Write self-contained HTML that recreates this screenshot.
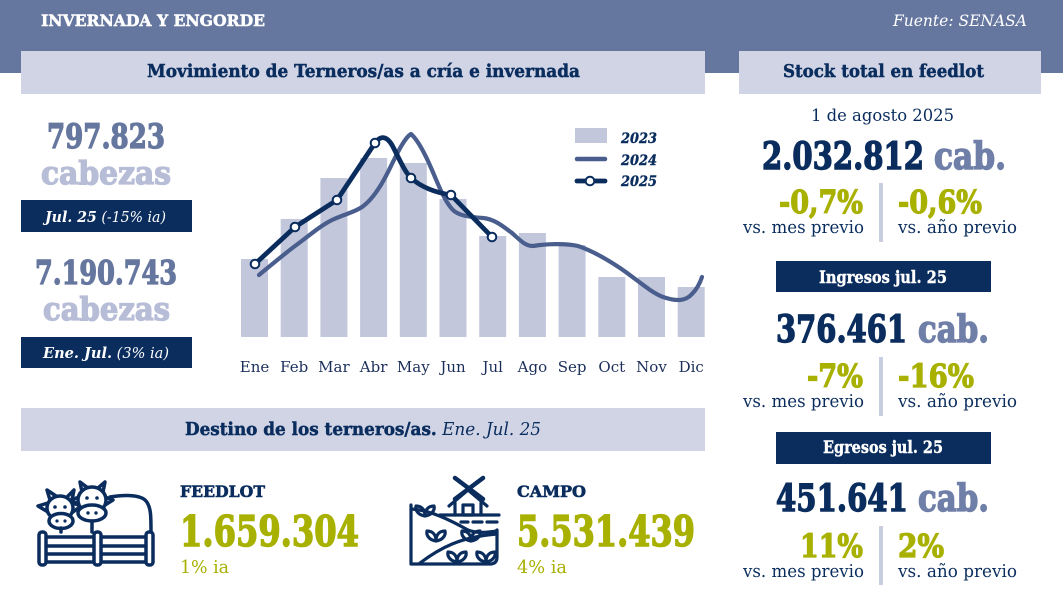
<!DOCTYPE html>
<html><head><meta charset="utf-8"><style>
html,body{margin:0;padding:0;background:#fff;}
svg{display:block;}
text{font-family:"DejaVu Serif","Liberation Serif",serif;}
</style></head><body>
<svg width="1063" height="592" viewBox="0 0 1063 592" xmlns="http://www.w3.org/2000/svg">
<rect x="0" y="0" width="1063" height="73" fill="#66779f"/>
<text x="41" y="26" font-size="16" font-weight="bold" fill="#fff" stroke="#fff" stroke-width="0.5" textLength="224" lengthAdjust="spacingAndGlyphs">INVERNADA Y ENGORDE</text>
<text x="893" y="26" font-size="16" font-style="italic" fill="#fff" textLength="134" lengthAdjust="spacingAndGlyphs">Fuente: SENASA</text>

<rect x="21" y="51" width="684" height="43" fill="#d0d4e5"/>
<text x="147" y="77" font-size="18" font-weight="bold" fill="#0a2d5e" stroke="#0a2d5e" stroke-width="0.5" textLength="433" lengthAdjust="spacingAndGlyphs">Movimiento de Terneros/as a cría e invernada</text>
<rect x="739" y="51" width="302" height="43" fill="#d0d4e5"/>
<text x="783" y="77" font-size="18" font-weight="bold" fill="#0a2d5e" stroke="#0a2d5e" stroke-width="0.5" textLength="201" lengthAdjust="spacingAndGlyphs">Stock total en feedlot</text>

<!-- left numbers -->
<text x="47" y="148" font-size="34" font-weight="bold" fill="#66779f" stroke="#66779f" stroke-width="1.3" textLength="118" lengthAdjust="spacingAndGlyphs">797.823</text>
<text x="41" y="184" font-size="32" font-weight="bold" fill="#b7bdd6" stroke="#b7bdd6" stroke-width="1.3" textLength="130" lengthAdjust="spacingAndGlyphs">cabezas</text>
<rect x="21" y="200" width="171" height="32" fill="#0a2d5e"/>
<text x="45" y="222" font-size="15" fill="#fff" font-style="italic" textLength="121" lengthAdjust="spacingAndGlyphs"><tspan font-weight="bold">Jul. 25</tspan> (-15% ia)</text>
<text x="35" y="284" font-size="33" font-weight="bold" fill="#66779f" stroke="#66779f" stroke-width="1.3" textLength="142" lengthAdjust="spacingAndGlyphs">7.190.743</text>
<text x="43" y="320" font-size="32" font-weight="bold" fill="#b7bdd6" stroke="#b7bdd6" stroke-width="1.3" textLength="127" lengthAdjust="spacingAndGlyphs">cabezas</text>
<rect x="21" y="337" width="171" height="31" fill="#0a2d5e"/>
<text x="43" y="358" font-size="15" fill="#fff" font-style="italic" textLength="126" lengthAdjust="spacingAndGlyphs"><tspan font-weight="bold">Ene. Jul.</tspan> (3% ia)</text>

<!-- bars -->
<g fill="#c2c7dc">
<rect x="241" y="259" width="27" height="78"/>
<rect x="280.7" y="219" width="27" height="118"/>
<rect x="320.4" y="178" width="27" height="159"/>
<rect x="360.1" y="158" width="27" height="179"/>
<rect x="399.8" y="163" width="27" height="174"/>
<rect x="439.5" y="199" width="27" height="138"/>
<rect x="479.2" y="236" width="27" height="101"/>
<rect x="518.9" y="233" width="27" height="104"/>
<rect x="558.6" y="245" width="27" height="92"/>
<rect x="598.3" y="277" width="27" height="60"/>
<rect x="638" y="277" width="27" height="60"/>
<rect x="677.7" y="287" width="27" height="50"/>
</g>
<!-- 2024 -->
<path d="M259,275 C270,266 283,255 295,246 C310,235 320,226 332,220 C345,214 355,212 362,207 C372,200 380,188 388,172 C396,156 404,138 411,134 C418,140 426,156 432,170 C438,184 444,200 452,209 C458,216 470,217 483,218 C495,219 505,228 512,233 C520,240 525,246 533,246 C545,244 565,243 578,246 C590,250 605,258 620,268 C635,278 650,292 663,297 C675,301 685,302 692,294 C697,289 700,283 702,277" fill="none" stroke="#4a5e8d" stroke-width="4.2" stroke-linecap="round" stroke-linejoin="round"/>
<!-- 2025 -->
<path d="M255,264 L295,227 L337,200 L375,143 C380,136 386,135 392,145 C398,156 404,171 411,178 C420,186 432,192 451,195 L492,237" fill="none" stroke="#0a2d5e" stroke-width="4.8" stroke-linecap="round" stroke-linejoin="round"/>
<g fill="#fff" stroke="#0a2d5e" stroke-width="2">
<circle cx="255" cy="264" r="4.3"/>
<circle cx="295" cy="227" r="4.3"/>
<circle cx="337" cy="200" r="4.3"/>
<circle cx="375" cy="143" r="4.3"/>
<circle cx="411" cy="178" r="4.3"/>
<circle cx="451" cy="195" r="4.3"/>
<circle cx="492" cy="237" r="4.3"/>
</g>
<!-- legend -->
<rect x="575" y="128" width="32" height="15" fill="#c2c7dc"/>
<line x1="577" y1="159" x2="605" y2="159" stroke="#4a5e8d" stroke-width="4.5" stroke-linecap="round"/>
<line x1="577" y1="181" x2="605" y2="181" stroke="#0a2d5e" stroke-width="4.8" stroke-linecap="round"/>
<circle cx="590" cy="181" r="4.3" fill="#fff" stroke="#0a2d5e" stroke-width="2"/>
<g font-size="14" font-weight="bold" font-style="italic" fill="#0a2d5e" stroke="#0a2d5e" stroke-width="0.4">
<text x="621" y="143" textLength="36" lengthAdjust="spacingAndGlyphs">2023</text>
<text x="621" y="165" textLength="36" lengthAdjust="spacingAndGlyphs">2024</text>
<text x="621" y="186" textLength="36" lengthAdjust="spacingAndGlyphs">2025</text>
</g>
<!-- months -->
<g font-size="15" fill="#1b2f5a" text-anchor="middle">
<text x="254.5" y="372">Ene</text>
<text x="294.2" y="372">Feb</text>
<text x="333.9" y="372">Mar</text>
<text x="373.6" y="372">Abr</text>
<text x="413.3" y="372">May</text>
<text x="453" y="372">Jun</text>
<text x="492.7" y="372">Jul</text>
<text x="532.4" y="372">Ago</text>
<text x="572.1" y="372">Sep</text>
<text x="611.8" y="372">Oct</text>
<text x="651.5" y="372">Nov</text>
<text x="691.2" y="372">Dic</text>
</g>

<!-- destino -->
<rect x="21" y="408" width="684" height="43" fill="#d0d4e5"/>
<text x="185" y="435" font-size="18" fill="#0a2d5e" textLength="356" lengthAdjust="spacingAndGlyphs"><tspan font-weight="bold" stroke="#0a2d5e" stroke-width="0.5">Destino de los terneros/as.</tspan><tspan font-style="italic"> Ene. Jul. 25</tspan></text>

<!-- feedlot icon -->
<g fill="none" stroke="#0a2d5e" stroke-width="3.5" stroke-linecap="round" stroke-linejoin="round">
<line x1="46" y1="537" x2="146" y2="537"/>
<line x1="46" y1="546" x2="146" y2="546"/>
<line x1="46" y1="554" x2="146" y2="554"/>
<line x1="46" y1="562" x2="146" y2="562"/>
<rect x="39" y="532" width="7" height="33" rx="3" fill="#fff"/>
<rect x="94" y="532" width="7" height="33" rx="3" fill="#fff"/>
<rect x="146" y="532" width="7" height="33" rx="3" fill="#fff"/>
<!-- body -->
<path d="M110,497 C122,495 140,494 146,501 C151,507 151,516 151,532"/>
<!-- left cow -->
<path d="M50,500 L47,490 L56,496 M68,496 L74,490 L72,500"/>
<path d="M48,503 L38,506 L48,512 M73,503 L81,506 L73,512"/>
<ellipse cx="60" cy="508" rx="13" ry="12" fill="#fff"/>
<ellipse cx="61" cy="521" rx="12" ry="7.5" fill="#fff"/>
<line x1="61" y1="528" x2="61" y2="532"/>
<!-- right cow -->
<path d="M82,492 L80,482 L88,488 M98,488 L105,482 L103,492"/>
<path d="M79,497 L71,500 L79,505 M105,497 L113,500 L105,505"/>
<ellipse cx="92" cy="500" rx="14" ry="13" fill="#fff"/>
<ellipse cx="92" cy="513" rx="14" ry="8" fill="#fff"/>
<line x1="92" y1="521" x2="92" y2="532"/>
</g>
<g fill="#0a2d5e">
<circle cx="55" cy="507" r="1.8"/><circle cx="65" cy="507" r="1.8"/>
<circle cx="57" cy="521" r="1.6"/><circle cx="65" cy="521" r="1.6"/>
<circle cx="87" cy="498" r="1.8"/><circle cx="97" cy="498" r="1.8"/>
<circle cx="88" cy="513" r="1.7"/><circle cx="96" cy="513" r="1.7"/>
</g>
<text x="180" y="497" font-size="16" font-weight="bold" fill="#0a2d5e" stroke="#0a2d5e" stroke-width="0.6" textLength="85" lengthAdjust="spacingAndGlyphs">FEEDLOT</text>
<text x="180" y="546" font-size="42" font-weight="bold" fill="#a8b000" stroke="#a8b000" stroke-width="1.5" textLength="179" lengthAdjust="spacingAndGlyphs">1.659.304</text>
<text x="180" y="573" font-size="18" fill="#a8b000" textLength="49" lengthAdjust="spacingAndGlyphs">1% ia</text>

<!-- campo icon -->
<g fill="none" stroke="#0a2d5e" stroke-width="3.2" stroke-linecap="round" stroke-linejoin="round">
<line x1="455" y1="478" x2="483" y2="499" stroke-width="4.5"/>
<line x1="483" y1="478" x2="455" y2="499" stroke-width="4.5"/>
<path d="M449,506 L468,490 L487,506"/>
<path d="M455,503 L455,515 M481,503 L481,515"/>
<rect x="463" y="505" width="10" height="10"/>
<line x1="440" y1="515" x2="499" y2="515"/>
<path d="M461,522 L468,522 M473,522 L482,522 M487,522 L497,522"/>
<path d="M411,505 L411,564 L490,564 Q497,564 497,557 L497,530"/>
<path d="M411,509 C430,510 450,520 468,530 C478,534 488,532 497,531"/>
<path d="M420,563 C440,548 460,537 497,534"/>
<path d="M425,516 C418,515 415,510 416,506 C422,506 425,510 425,516 C425,510 428,506 434,506 C435,510 432,515 425,516 Z"/>
<path d="M436,541 C429,540 426,535 427,531 C433,531 436,535 436,541 C436,535 439,531 445,531 C446,535 443,540 436,541 Z"/>
<path d="M471,541 C464,540 461,535 462,531 C468,531 471,535 471,541 C471,535 474,531 480,531 C481,535 478,540 471,541 Z"/>
<path d="M457,562 C450,561 447,556 448,552 C454,552 457,556 457,562 C457,556 460,552 466,552 C467,556 464,561 457,562 Z"/>
<path d="M486,562 C479,561 476,556 477,552 C483,552 486,556 486,562 C486,556 489,552 495,552 C496,556 493,561 486,562 Z"/>
</g>
<text x="517" y="497" font-size="16" font-weight="bold" fill="#0a2d5e" stroke="#0a2d5e" stroke-width="0.6" textLength="69" lengthAdjust="spacingAndGlyphs">CAMPO</text>
<text x="517" y="546" font-size="42" font-weight="bold" fill="#a8b000" stroke="#a8b000" stroke-width="1.5" textLength="178" lengthAdjust="spacingAndGlyphs">5.531.439</text>
<text x="517" y="573" font-size="18" fill="#a8b000" textLength="50" lengthAdjust="spacingAndGlyphs">4% ia</text>

<!-- right panel -->
<text x="811" y="121" font-size="17" fill="#0a2d5e" textLength="143" lengthAdjust="spacingAndGlyphs">1 de agosto 2025</text>
<text x="762" y="169" font-size="37" font-weight="bold" fill="#0a2d5e" stroke="#0a2d5e" stroke-width="1.4" textLength="162" lengthAdjust="spacingAndGlyphs">2.032.812</text>
<text x="934" y="169" font-size="37" font-weight="bold" fill="#6f7fa8" stroke="#6f7fa8" stroke-width="1.4" textLength="72" lengthAdjust="spacingAndGlyphs">cab.</text>
<text x="779" y="213" font-size="32" font-weight="bold" fill="#a8b000" stroke="#a8b000" stroke-width="1.2" textLength="84" lengthAdjust="spacingAndGlyphs">-0,7%</text>
<text x="898" y="213" font-size="32" font-weight="bold" fill="#a8b000" stroke="#a8b000" stroke-width="1.2" textLength="84" lengthAdjust="spacingAndGlyphs">-0,6%</text>
<text x="743" y="233" font-size="18" fill="#0a2d5e" textLength="121" lengthAdjust="spacingAndGlyphs">vs. mes previo</text>
<text x="898" y="233" font-size="18" fill="#0a2d5e" textLength="119" lengthAdjust="spacingAndGlyphs">vs. año previo</text>
<rect x="879" y="183" width="4" height="59" fill="#c8cde0"/>

<rect x="776" y="261" width="215" height="31" fill="#0a2d5e"/>
<text x="819" y="283" font-size="17" font-weight="bold" fill="#fff" stroke="#fff" stroke-width="0.4" textLength="128" lengthAdjust="spacingAndGlyphs">Ingresos jul. 25</text>
<text x="776" y="342" font-size="37" font-weight="bold" fill="#0a2d5e" stroke="#0a2d5e" stroke-width="1.4" textLength="131" lengthAdjust="spacingAndGlyphs">376.461</text>
<text x="918" y="342" font-size="37" font-weight="bold" fill="#6f7fa8" stroke="#6f7fa8" stroke-width="1.4" textLength="71" lengthAdjust="spacingAndGlyphs">cab.</text>
<text x="807" y="387" font-size="32" font-weight="bold" fill="#a8b000" stroke="#a8b000" stroke-width="1.2" textLength="56" lengthAdjust="spacingAndGlyphs">-7%</text>
<text x="898" y="387" font-size="32" font-weight="bold" fill="#a8b000" stroke="#a8b000" stroke-width="1.2" textLength="76" lengthAdjust="spacingAndGlyphs">-16%</text>
<text x="743" y="407" font-size="18" fill="#0a2d5e" textLength="121" lengthAdjust="spacingAndGlyphs">vs. mes previo</text>
<text x="898" y="407" font-size="18" fill="#0a2d5e" textLength="119" lengthAdjust="spacingAndGlyphs">vs. año previo</text>
<rect x="879" y="357" width="4" height="59" fill="#c8cde0"/>

<rect x="776" y="432" width="215" height="32" fill="#0a2d5e"/>
<text x="823" y="453" font-size="17" font-weight="bold" fill="#fff" stroke="#fff" stroke-width="0.4" textLength="120" lengthAdjust="spacingAndGlyphs">Egresos jul. 25</text>
<text x="776" y="511" font-size="37" font-weight="bold" fill="#0a2d5e" stroke="#0a2d5e" stroke-width="1.4" textLength="132" lengthAdjust="spacingAndGlyphs">451.641</text>
<text x="918" y="511" font-size="37" font-weight="bold" fill="#6f7fa8" stroke="#6f7fa8" stroke-width="1.4" textLength="71" lengthAdjust="spacingAndGlyphs">cab.</text>
<text x="800" y="557" font-size="32" font-weight="bold" fill="#a8b000" stroke="#a8b000" stroke-width="1.2" textLength="63" lengthAdjust="spacingAndGlyphs">11%</text>
<text x="898" y="557" font-size="32" font-weight="bold" fill="#a8b000" stroke="#a8b000" stroke-width="1.2" textLength="46" lengthAdjust="spacingAndGlyphs">2%</text>
<text x="743" y="577" font-size="18" fill="#0a2d5e" textLength="121" lengthAdjust="spacingAndGlyphs">vs. mes previo</text>
<text x="898" y="577" font-size="18" fill="#0a2d5e" textLength="119" lengthAdjust="spacingAndGlyphs">vs. año previo</text>
<rect x="879" y="526" width="4" height="59" fill="#c8cde0"/>
</svg>
</body></html>
